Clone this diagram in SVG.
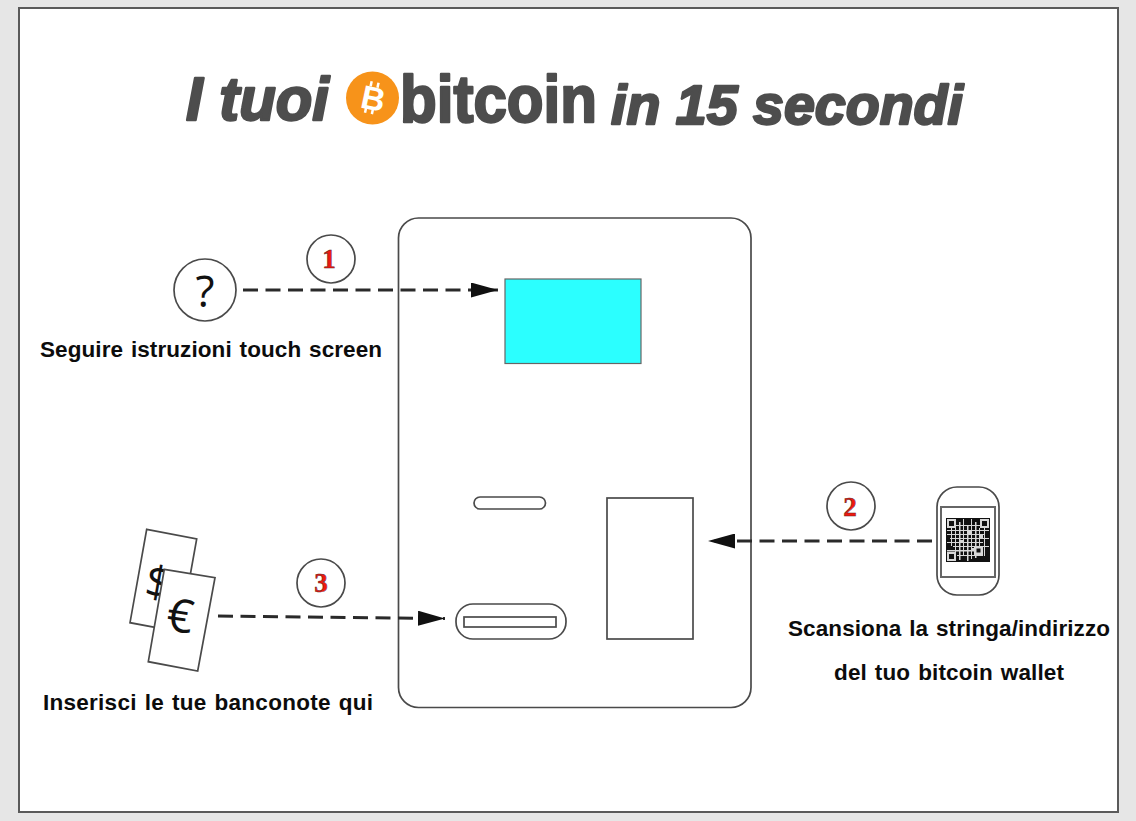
<svg xmlns="http://www.w3.org/2000/svg" width="1136" height="821" viewBox="0 0 1136 821">
<style>
.ln{fill:#fff;stroke:#4a4a4a;stroke-width:1.7}
.dash{fill:none;stroke:#2a2a2a;stroke-width:3;stroke-dasharray:15 7.5}
.ttl{font-family:"Liberation Sans",Arial,sans-serif;font-weight:700;fill:#4d4d4d;stroke:#4d4d4d;stroke-width:2.4;stroke-linejoin:round}
.lbl{font-family:"Liberation Sans",Arial,sans-serif;font-weight:700;font-size:22.5px;word-spacing:1.5px;fill:#0c0c0c}
.num{font-family:"Liberation Serif","Times New Roman",serif;font-weight:700;font-size:27px;fill:#f0190e;stroke:#5a2020;stroke-width:.5;text-anchor:middle}
.sym{font-family:"Open Sans","Liberation Sans",sans-serif;fill:#111;text-anchor:middle}
.k{fill:#111}
</style>
<defs>
<marker id="head" markerWidth="27" markerHeight="15" refX="27" refY="7.5" markerUnits="userSpaceOnUse" orient="auto"><path d="M0 0L27 7.5L0 15Z" fill="#111"/></marker>
</defs>
<rect width="1136" height="821" fill="#e6e6e6"/>
<rect id="frame" x="19" y="8" width="1099" height="804" fill="#fff" stroke="#5a5a5a" stroke-width="2"/>
<g id="title">
<text class="ttl" font-style="italic" font-size="62" x="186" y="120" textLength="143" lengthAdjust="spacingAndGlyphs">I tuoi</text>
<circle cx="372.500" cy="98" r="26.500" fill="#f7931a"/>
<g transform="rotate(12 373 98)" fill="#fff">
<text x="373.500" y="110" font-family="Liberation Sans,sans-serif" font-weight="700" font-size="33" text-anchor="middle">B</text>
<rect x="367" y="82" width="2.500" height="5"/><rect x="374" y="82" width="2.500" height="5"/><rect x="367" y="109" width="2.500" height="5"/><rect x="374" y="109" width="2.500" height="5"/>
</g>
<text class="ttl" font-size="66" x="400" y="122" textLength="197" lengthAdjust="spacingAndGlyphs">bitcoin</text>
<text class="ttl" font-style="italic" font-size="56" x="611" y="124" textLength="352" lengthAdjust="spacingAndGlyphs">in 15 secondi</text>
</g>
<g id="atm">
<rect class="ln" x="398.500" y="218" width="352.500" height="489.500" rx="20"/>
<rect id="screen" x="505" y="279" width="136" height="84.500" fill="#2bffff" stroke="#666" stroke-width="1.2"/>
<rect class="ln" x="474" y="497" width="71.500" height="12" rx="6"/>
<rect class="ln" x="607" y="498" width="86" height="141"/>
<rect class="ln" x="456" y="604" width="110" height="35" rx="17"/>
<rect class="ln" x="464" y="617" width="92" height="10"/>
</g>
<g id="connectors">
<path class="dash" d="M243 290H498" marker-end="url(#head)"/>
<path class="dash" d="M932 541H708" marker-end="url(#head)"/>
<path class="dash" d="M218 616L445 618.500" marker-end="url(#head)"/>
</g>
<g id="help">
<circle class="ln" cx="205" cy="290" r="31"/>
<text class="sym" x="205" y="307" font-size="44" font-weight="500">?</text>
<text class="lbl" x="40" y="357" textLength="342" lengthAdjust="spacing">Seguire istruzioni touch screen</text>
</g>
<g id="step1"><circle class="ln" cx="331" cy="259" r="24"/><text class="num" x="329" y="268">1</text></g>
<g id="step2"><circle class="ln" cx="851" cy="506" r="24"/><text class="num" x="850" y="516">2</text></g>
<g id="step3"><circle class="ln" cx="321" cy="583" r="24"/><text class="num" x="321" y="592">3</text></g>
<g id="phone">
<rect class="ln" x="937" y="487" width="62" height="108" rx="20"/>
<rect x="941" y="507" width="54" height="70" fill="#fff" stroke="#666" stroke-width="2"/>
<rect class="k" x="946" y="518" width="44" height="44"/>
<g fill="#d8d8d8">
<rect x="947" y="525" width="42" height="1"/><rect x="947" y="530" width="42" height="1"/><rect x="947" y="534" width="38" height="1"/><rect x="950" y="538" width="39" height="1"/><rect x="947" y="542" width="36" height="1"/><rect x="953" y="546" width="36" height="1"/><rect x="947" y="550" width="30" height="1.500"/><rect x="957" y="555" width="26" height="1"/>
<rect x="951" y="526" width="1" height="20"/><rect x="955" y="519" width="1" height="42"/><rect x="959" y="522" width="1.500" height="38"/><rect x="963" y="519" width="1" height="36"/><rect x="967" y="526" width="1.500" height="35"/><rect x="971" y="519" width="1" height="40"/><rect x="975" y="522" width="1.500" height="36"/><rect x="979" y="528" width="1" height="18"/><rect x="984" y="526" width="1" height="30"/>
<rect x="960" y="540" width="4" height="3"/><rect x="968" y="530" width="3" height="4"/><rect x="972" y="548" width="3" height="3"/><rect x="980" y="535" width="3" height="3"/>
<rect x="947" y="519" width="9" height="9"/><rect x="980" y="519" width="9" height="9"/><rect x="947" y="552" width="9" height="9"/><rect x="974" y="546" width="9" height="9"/>
</g>
<g class="k"><rect x="949" y="521" width="5" height="5"/><rect x="982" y="521" width="5" height="5"/><rect x="949" y="554" width="5" height="5"/><rect x="976.500" y="548.500" width="4" height="4"/></g>
<text class="lbl" x="788" y="636" textLength="322" lengthAdjust="spacing">Scansiona la stringa/indirizzo</text>
<text class="lbl" x="834" y="680" textLength="230" lengthAdjust="spacing">del tuo bitcoin wallet</text>
</g>
<g id="notes">
<path class="ln" d="M146.700 529.300L196.700 539L180 632L130 622.700Z"/>
<text class="sym" x="158" y="598" font-size="44" transform="rotate(10 158 585)">$</text>
<path class="ln" d="M164.300 569.300L215 577.700L197.700 671L148.300 661.700Z"/>
<text class="sym" x="180" y="632" font-size="46" transform="rotate(8 180 618)">€</text>
<text class="lbl" x="43" y="710" textLength="330" lengthAdjust="spacing">Inserisci le tue banconote qui</text>
</g>
</svg>
